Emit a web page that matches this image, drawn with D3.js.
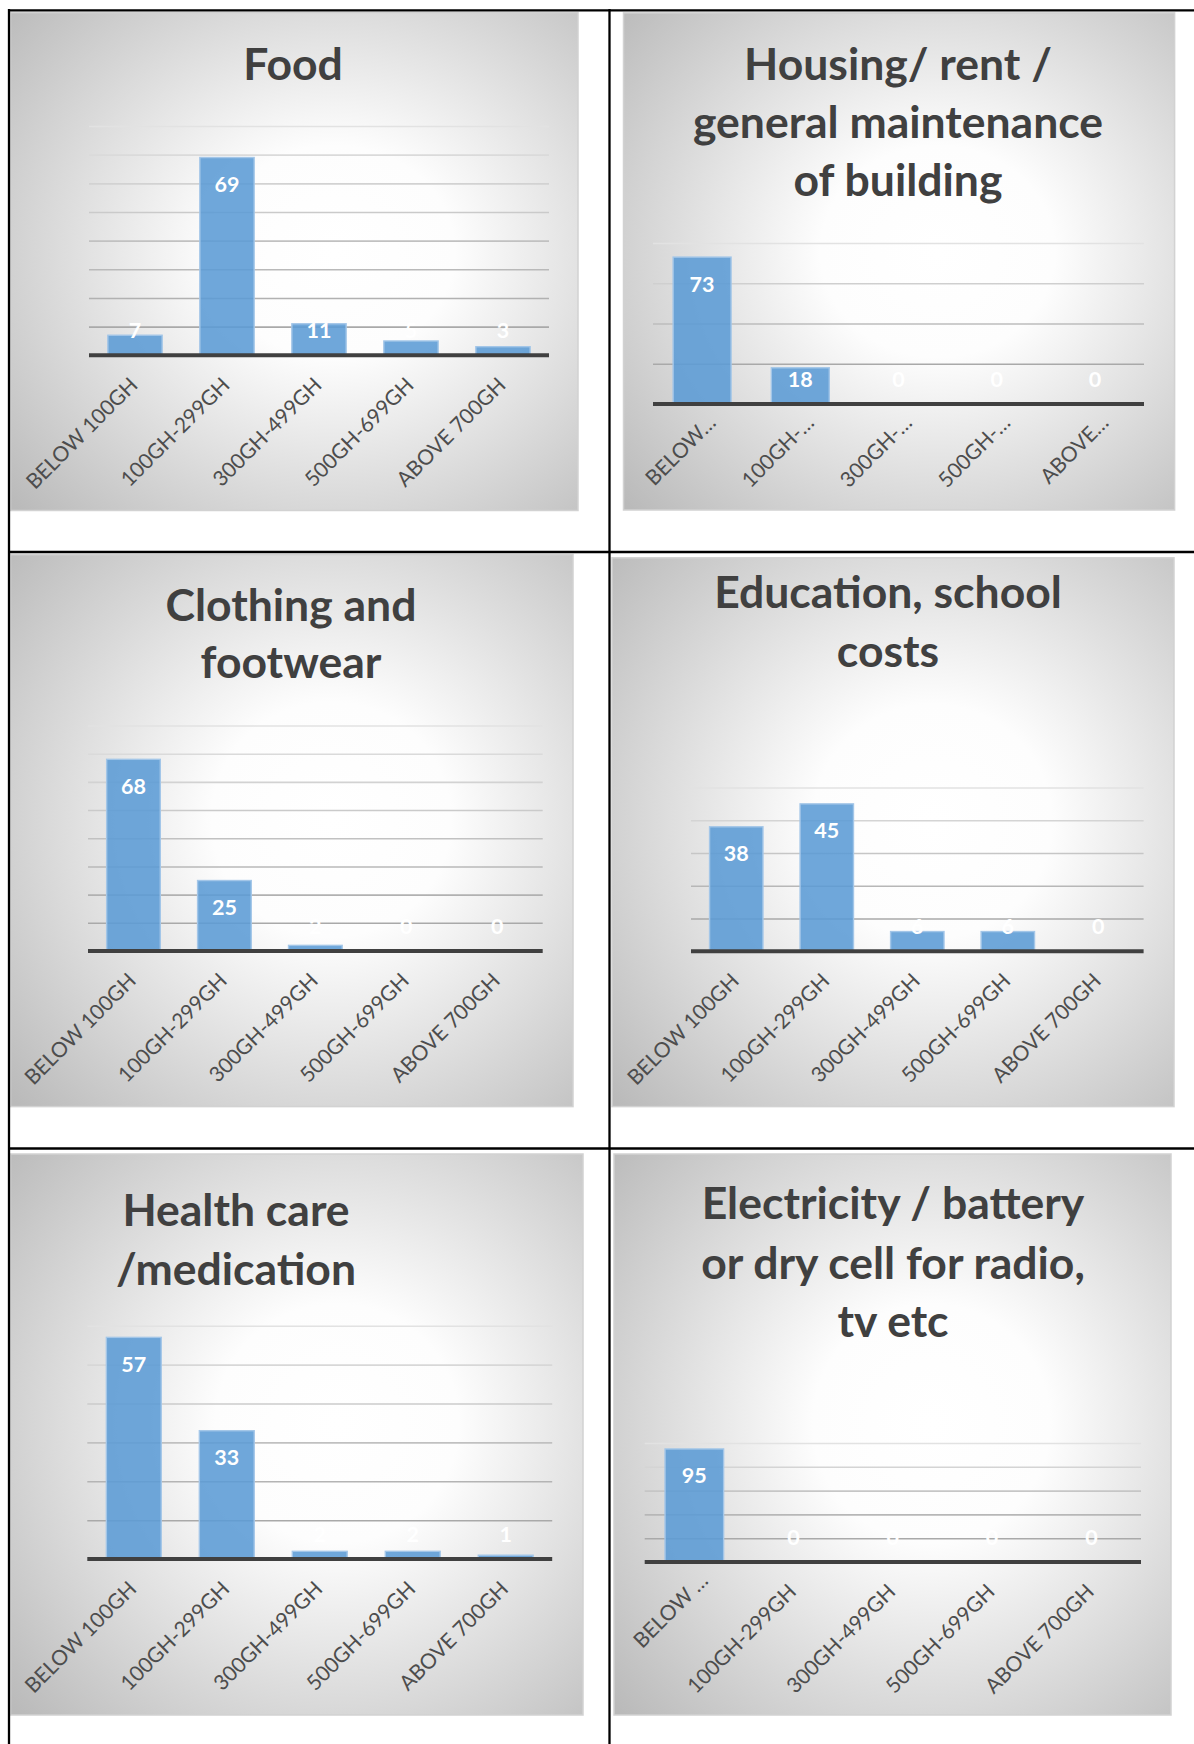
<!DOCTYPE html>
<html>
<head>
<meta charset="utf-8">
<script src="https://cdn.jsdelivr.net/npm/d3@7"></script>
<style>
  html, body { margin: 0; padding: 0; background: #ffffff; }
  svg { display: block; }
</style>
</head>
<body>
<svg id="sheet" width="1194" height="1744"></svg>
<script>
// Household monthly spending, respondents per spending band (GH = Ghana cedis)
const categories = ["BELOW 100GH", "100GH-299GH", "300GH-499GH", "500GH-699GH", "ABOVE 700GH"];

const titles = [
  ["Food"],
  ["Housing/ rent /", "general maintenance", "of building"],
  ["Clothing and", "footwear"],
  ["Education, school", "costs"],
  ["Health care", "/medication"],
  ["Electricity / battery", "or dry cell for radio,", "tv etc"]
];

const foodValues        = [7, 69, 11, 5, 3];
const housingValues     = [73, 18, 0, 0, 0];
const clothingValues    = [68, 25, 2, 0, 0];
const educationValues   = [38, 45, 6, 6, 0];
const healthValues      = [57, 33, 2, 2, 1];
const electricityValues = [95, 0, 0, 0, 0];

// Category labels as shown under each chart (long ones are cut short where space ran out)
const fullTickLabels        = categories;
const housingTickLabels     = ["BELOW…", "100GH-…", "300GH-…", "500GH-…", "ABOVE…"];
const electricityTickLabels = ["BELOW …", "100GH-299GH", "300GH-499GH", "500GH-699GH", "ABOVE 700GH"];

// Value axis: [max, gridline step]
const axisMax  = [80, 80, 80, 50, 60, 100];
const axisStep = [10, 20, 10, 10, 10, 20];

const seriesList = [foodValues, housingValues, clothingValues, educationValues, healthValues, electricityValues];
const tickLists  = [fullTickLabels, housingTickLabels, fullTickLabels, fullTickLabels, fullTickLabels, electricityTickLabels];

// Page geometry for each chart box: panel rectangle, plot area, title placement
const layout = [
  { px0: 10.5, py0: 12.5, px1: 578, py1: 510.5, x0: 89,    x1: 549,    top: 126,    base: 355.3, tx: 293, ty: [80.4] },
  { px0: 623.5, py0: 12.9, px1: 1174.6, py1: 510, x0: 653, x1: 1144,  top: 243,    base: 404,   tx: 898, ty: [80.4, 138, 196.4] },
  { px0: 10.5, py0: 554.6, px1: 573, py1: 1106.6, x0: 88,  x1: 542.7,  top: 725.5,  base: 951,   tx: 291, ty: [621, 678.4] },
  { px0: 612, py0: 557.8, px1: 1174, py1: 1106.6, x0: 691, x1: 1143.6, top: 787.5,  base: 951.2, tx: 888, ty: [608, 666.5] },
  { px0: 10.5, py0: 1154, px1: 583, py1: 1715, x0: 87.3,   x1: 552.2,  top: 1325.7, base: 1559.1, tx: 236, ty: [1225.5, 1284.5] },
  { px0: 614, py0: 1154, px1: 1171, py1: 1715, x0: 644.7,  x1: 1141,   top: 1443,   base: 1562,  tx: 893, ty: [1219, 1279.4, 1337] }
];

const svg = d3.select("#sheet");
const defs = svg.append("defs");

const FONT = "Lato, 'Open Sans', 'DejaVu Sans', sans-serif";

layout.forEach((L, k) => {
  const values = seriesList[k];
  const ticks = tickLists[k];
  const g = svg.append("g").attr("class", "chart");

  // soft radial shading of the chart box
  const grad = defs.append("radialGradient")
    .attr("id", "shade" + k)
    .attr("cx", 0.57).attr("cy", 0.48).attr("r", 0.76)
    .attr("fx", 0.57).attr("fy", 0.48);
  grad.append("stop").attr("offset", 0).attr("stop-color", "#ffffff");
  grad.append("stop").attr("offset", 0.28).attr("stop-color", "#fdfdfd");
  grad.append("stop").attr("offset", 1).attr("stop-color", "#bababa");

  g.append("rect")
    .attr("x", L.px0).attr("y", L.py0)
    .attr("width", L.px1 - L.px0).attr("height", L.py1 - L.py0)
    .attr("fill", `url(#shade${k})`)
    .attr("stroke", "#d2d2d2").attr("stroke-width", 1.5);

  // title
  const title = g.append("text")
    .attr("text-anchor", "middle")
    .attr("font-family", FONT)
    .attr("font-weight", 700)
    .attr("font-size", 44.5)
    .attr("fill", "#404040");
  titles[k].forEach((line, i) => {
    title.append("tspan").attr("x", L.tx).attr("y", L.ty[i]).text(line);
  });

  const x = d3.scaleBand()
    .domain(categories)
    .range([L.x0, L.x1])
    .paddingInner(0.41)
    .paddingOuter(0.205);

  const y = d3.scaleLinear()
    .domain([0, axisMax[k]])
    .range([L.base, L.top]);

  const gridValues = d3.range(axisStep[k], axisMax[k] + axisStep[k] / 2, axisStep[k]);
  const gridShade = d3.scaleLinear()
    .domain([axisStep[k], axisMax[k]])
    .range(["#a9a9a9", "#e2e2e2"]);

  // horizontal gridlines
  const grid = g.append("g")
    .attr("transform", `translate(${L.x0},0)`)
    .call(d3.axisLeft(y).tickValues(gridValues).tickSize(-(L.x1 - L.x0)).tickFormat(""));
  grid.select(".domain").remove();
  grid.selectAll(".tick line")
    .attr("stroke", d => gridShade(d))
    .attr("stroke-width", 1.6);

  // bars
  g.append("g").selectAll("rect")
    .data(values)
    .join("rect")
    .attr("x", (d, i) => x(categories[i]))
    .attr("width", x.bandwidth())
    .attr("y", d => y(d))
    .attr("height", d => y(0) - y(d))
    .attr("fill", "#5b9bd5")
    .attr("fill-opacity", 0.88)
    .attr("stroke", "#a3c6e8")
    .attr("stroke-width", 1.4);

  // category axis with slanted labels
  const xAxis = g.append("g")
    .attr("transform", `translate(0,${L.base})`)
    .call(d3.axisBottom(x).tickSize(0).tickFormat((d, i) => ticks[i]));
  xAxis.select(".domain").remove();
  xAxis.selectAll(".tick text")
    .each(function (d, i) {
      const cut = ticks[i].endsWith("…");
      const ax = cut ? 15 : 4;
      const ay = cut ? 20 : 31;
      d3.select(this)
        .attr("x", ax).attr("y", ay).attr("dy", null)
        .attr("transform", `rotate(-45,${ax},${ay})`)
        .attr("text-anchor", "end");
    })
    .attr("font-family", FONT)
    .attr("font-size", 21)
    .attr("fill", "#4d4d4d");

  // heavy baseline at zero
  g.append("line")
    .attr("x1", L.x0).attr("x2", L.x1)
    .attr("y1", y(0)).attr("y2", y(0))
    .attr("stroke", "#404040")
    .attr("stroke-width", 4);

  // value labels, inside the top of each bar
  g.append("g").selectAll("text")
    .data(values)
    .join("text")
    .attr("x", (d, i) => x(categories[i]) + x.bandwidth() / 2)
    .attr("y", d => Math.min(y(d) + 27, y(0) - 25) + 7.5)
    .attr("text-anchor", "middle")
    .attr("font-family", FONT)
    .attr("font-weight", 700)
    .attr("font-size", 21.5)
    .attr("fill", "#ffffff")
    .text(d => d);
});

// table rules around and between the charts
const rules = svg.append("g").attr("stroke", "#000000").attr("stroke-width", 2.3);
rules.append("line").attr("x1", 9).attr("x2", 9).attr("y1", 9).attr("y2", 1744);
rules.append("line").attr("x1", 609.5).attr("x2", 609.5).attr("y1", 9).attr("y2", 1744);
[10.3, 552, 1148.5].forEach(yy => {
  rules.append("line").attr("x1", 8).attr("x2", 1194).attr("y1", yy).attr("y2", yy);
});
</script>
</body>
</html>
